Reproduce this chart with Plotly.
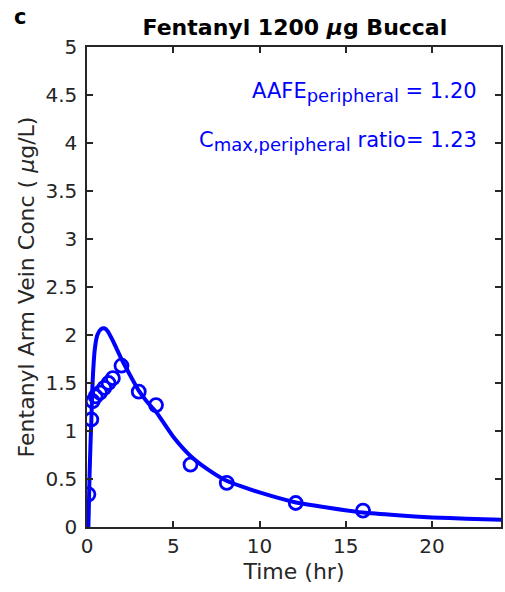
import plotly.graph_objects as go

# Observed data (time hr, conc ug/L)
obs_t = [0.083, 0.25, 0.33, 0.5, 0.75, 1.0, 1.25, 1.5, 2.0, 3.0, 4.0, 6.0, 8.1, 12.1, 16.0]
obs_c = [0.34, 1.12, 1.31, 1.36, 1.40, 1.45, 1.50, 1.55, 1.68, 1.41, 1.27, 0.65, 0.46, 0.25, 0.17]

# Simulated curve
sim_t = [0.08, 0.1, 0.15, 0.2, 0.25, 0.3, 0.35, 0.45, 0.6, 0.8, 1.0, 1.2, 1.5, 2.0, 2.5,
         3.0, 3.5, 4.0, 5.0, 6.0, 7.0, 8.0, 9.0, 10.0, 12.0, 14.0, 16.0, 18.0, 20.0, 22.0, 24.0]
sim_c = [0.0, 0.15, 0.55, 0.85, 1.1, 1.4, 1.6, 1.85, 2.0, 2.06, 2.07, 2.04, 1.94, 1.75, 1.58,
         1.42, 1.3, 1.2, 0.94, 0.74, 0.6, 0.49, 0.42, 0.36, 0.26, 0.2, 0.15, 0.122, 0.1, 0.087, 0.076]

x_ticks = [0, 5, 10, 15, 20]
y_ticks = [0, 0.5, 1, 1.5, 2, 2.5, 3, 3.5, 4, 4.5, 5]
y_tick_text = ["0", "0.5", "1", "1.5", "2", "2.5", "3", "3.5", "4", "4.5", "5"]

blue = "#0000FF"
axcol = "#262626"
font = "DejaVu Sans, Liberation Sans, Arial, sans-serif"

fig = go.Figure()
fig.add_trace(go.Scatter(x=obs_t, y=obs_c, mode="markers",
                         marker=dict(symbol="circle-open", size=13, color=blue,
                                     line=dict(color=blue, width=2.8)),
                         showlegend=False))
fig.add_trace(go.Scatter(x=sim_t, y=sim_c, mode="lines",
                         line=dict(color=blue, width=4, shape="spline", smoothing=0.6),
                         showlegend=False, hoverinfo="skip"))

fig.update_layout(
    width=505, height=592,
    margin=dict(l=87, r=2, t=47, b=65),
    paper_bgcolor="white", plot_bgcolor="white",
    font=dict(family=font, size=20, color=axcol),
    title=dict(text="<b>Fentanyl 1200 <i>μ</i>g Buccal</b>", x=0.584, xanchor="center",
               y=1 - 27 / 592, yanchor="middle", font=dict(size=22, color="black")),
    xaxis=dict(range=[0, 24], tickvals=x_ticks, ticks="inside", ticklen=6, tickwidth=1.5,
               tickcolor=axcol, showline=True, linecolor=axcol, linewidth=1.5, mirror="ticks",
               showgrid=False, zeroline=False, tickfont=dict(size=20),
               title=dict(text="Time (hr)", font=dict(size=22), standoff=7)),
    yaxis=dict(range=[0, 5], tickvals=y_ticks, ticktext=y_tick_text, ticks="inside", ticklen=6,
               tickwidth=1.5, tickcolor=axcol, showline=True, linecolor=axcol, linewidth=1.5,
               mirror="ticks", showgrid=False, zeroline=False, tickfont=dict(size=20),
               ticklabelstandoff=4,
               title=dict(text="Fentanyl Arm Vein Conc ( <i>μ</i>g/L)", font=dict(size=22), standoff=5)),
)

fig.add_annotation(text="<b>c</b>", xref="paper", yref="paper", x=-75 / 416, y=1 + 30 / 480,
                   xanchor="left", yanchor="middle", showarrow=False,
                   font=dict(size=21, color="black", family=font))
fig.add_annotation(text="AAFE<sub><span style='font-size:18px'>peripheral</span></sub> = 1.20",
                   xref="paper", yref="paper",
                   x=(481 - 87) / 416, y=(527 - 92) / 480, xanchor="right", yanchor="middle",
                   showarrow=False, font=dict(size=21, color=blue, family=font))
fig.add_annotation(text="C<sub><span style='font-size:18px'>max,peripheral</span></sub> ratio= 1.23",
                   xref="paper", yref="paper",
                   x=(481 - 87) / 416, y=(527 - 141) / 480, xanchor="right", yanchor="middle",
                   showarrow=False, font=dict(size=21, color=blue, family=font))

fig.write_html("out.html")
